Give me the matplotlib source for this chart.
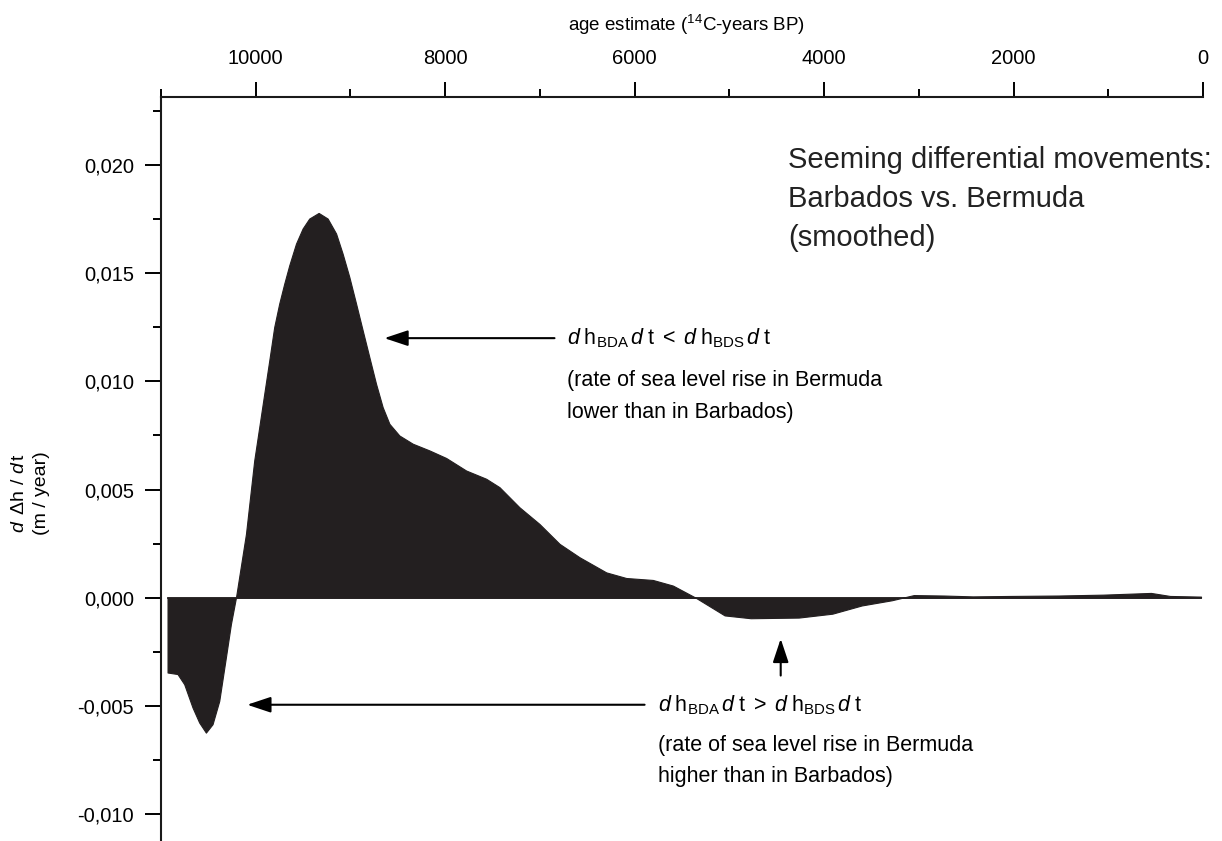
import matplotlib
matplotlib.use("Agg")
import matplotlib.pyplot as plt
from matplotlib.ticker import MultipleLocator, FuncFormatter

plt.rcParams['font.family'] = ['Liberation Sans', 'DejaVu Sans']
plt.rcParams['mathtext.fontset'] = 'custom'
plt.rcParams['mathtext.rm'] = 'Liberation Sans'
plt.rcParams['mathtext.it'] = 'Liberation Sans:italic'
plt.rcParams['mathtext.bf'] = 'Liberation Sans:bold'

# age (14C-years BP) and smoothed differential rate (m / year)
age = [10931, 10826, 10755, 10667, 10597, 10526, 10456, 10385, 10315, 10262,
       10209, 10103, 10016, 9963, 9910, 9857, 9805, 9752, 9699, 9646,
       9575, 9505, 9435, 9336, 9241, 9152, 9083, 9012, 8941, 8871,
       8801, 8730, 8660, 8589, 8484, 8343, 8167, 7990, 7779, 7568,
       7427, 7216, 7005, 6793, 6582, 6300, 6089, 5808, 5596, 5356,
       5050, 4775, 4268, 3913, 3603, 3286, 3053, 2740, 2430, 2039,
       1527, 1057, 549, 349, 21]
rate = [-0.00346, -0.00353, -0.00400, -0.00508, -0.00577, -0.00624, -0.00585, -0.00477, -0.00276, -0.00122,
        0.0, 0.00295, 0.00634, 0.00788, 0.00943, 0.01097, 0.01251, 0.01360, 0.01452, 0.01537,
        0.01637, 0.01707, 0.01753, 0.01779, 0.01753, 0.01684, 0.01591, 0.01483, 0.01360, 0.01236,
        0.01113, 0.00989, 0.00881, 0.00804, 0.00750, 0.00712, 0.00681, 0.00646, 0.00588, 0.00550,
        0.00511, 0.00418, 0.00341, 0.00249, 0.00187, 0.00117, 0.00091, 0.00082, 0.00056, 0.0,
        -0.00082, -0.00095, -0.00092, -0.00074, -0.00036, -0.00012, 0.00012, 0.00010, 0.00006, 0.00008,
        0.00010, 0.00014, 0.00022, 0.00008, 0.00005]

x_major = [10000, 8000, 6000, 4000, 2000, 0]
y_major = [-0.010, -0.005, 0.000, 0.005, 0.010, 0.015, 0.020]

W, H = 1222, 841
fig = plt.figure(figsize=(W / 100, H / 100), dpi=100)
ax = fig.add_axes([161 / W, 0.0, (1203 - 161) / W, (H - 97) / H])

fill_col = '#231f20'
ax.fill_between(age, rate, 0, color=fill_col, linewidth=0.8, edgecolor=fill_col)
ax.plot([age[0], age[-1]], [0, 0], color=fill_col, lw=1.3)

ax.set_xlim(11000, 0)
ax.set_ylim(-0.01125, 0.02315)

for s in ['right', 'bottom']:
    ax.spines[s].set_visible(False)
for s in ['left', 'top']:
    ax.spines[s].set_linewidth(1.5)
    ax.spines[s].set_color('#1a1a1a')

ax.xaxis.tick_top()
ax.set_xticks(x_major)
ax.xaxis.set_minor_locator(MultipleLocator(1000))
ax.set_yticks(y_major)
ax.yaxis.set_minor_locator(MultipleLocator(0.0025))
ax.xaxis.set_major_formatter(FuncFormatter(lambda v, p: f"{int(round(v))}"))
ax.yaxis.set_major_formatter(FuncFormatter(lambda v, p: f"{v:.3f}".replace('.', ',').replace('\u2212', '-')))

ax.tick_params(axis='x', which='major', direction='out', length=11, width=1.4, labelsize=14.5, pad=10, top=True, bottom=False)
ax.tick_params(axis='x', which='minor', direction='out', length=6, width=1.4, top=True, bottom=False)
ax.tick_params(axis='y', which='major', direction='out', length=11.5, width=1.4, labelsize=14.5, pad=8)
ax.tick_params(axis='y', which='minor', direction='out', length=6, width=1.4)

# axis labels
fig.text(687 / W, 1 - 25 / H, r"age estimate ($^{14}$C-years BP)", ha='center', va='center', fontsize=13.5)
fig.text(20 / W, 1 - 493 / H, r"$\mathit{d}\,$ Δh / $\mathit{d}\,$t", rotation=90, ha='center', va='center', fontsize=14)
fig.text(42 / W, 1 - 493 / H, "(m / year)", rotation=90, ha='center', va='center', fontsize=14)

# title block
fig.text(788 / W, 1 - 146 / H, "Seeming differential movements:\nBarbados vs. Bermuda\n(smoothed)",
         ha='left', va='top', fontsize=21, linespacing=1.5, color='#222222')

# annotations
arrow_kw = dict(arrowstyle='-|>,head_length=0.9,head_width=0.3', color='black', lw=1.5, mutation_scale=16, shrinkA=0, shrinkB=0)
ax.annotate('', xy=(8642, 0.0120), xytext=(6846, 0.0120), arrowprops=arrow_kw)
ax.annotate('', xy=(10090, -0.00495), xytext=(5895, -0.00495), arrowprops=arrow_kw)
ax.annotate('', xy=(4458, -0.0019), xytext=(4458, -0.0036), arrowprops=arrow_kw)

eq1 = r"$\mathit{d}\;\mathrm{h}_{\mathrm{BDA}}\,\mathit{d}\;\mathrm{t}\;<\;\mathit{d}\;\mathrm{h}_{\mathrm{BDS}}\,\mathit{d}\;\mathrm{t}$"
eq2 = r"$\mathit{d}\;\mathrm{h}_{\mathrm{BDA}}\,\mathit{d}\;\mathrm{t}\;>\;\mathit{d}\;\mathrm{h}_{\mathrm{BDS}}\,\mathit{d}\;\mathrm{t}$"
fs = 15.5
ax.text(6709, 0.0120, eq1, ha='left', va='center', fontsize=fs)
ax.text(6709, 0.01005, "(rate of sea level rise in Bermuda", ha='left', va='center', fontsize=fs)
ax.text(6709, 0.00855, "lower than in Barbados)", ha='left', va='center', fontsize=fs)
ax.text(5758, -0.00495, eq2, ha='left', va='center', fontsize=fs)
ax.text(5758, -0.00685, "(rate of sea level rise in Bermuda", ha='left', va='center', fontsize=fs)
ax.text(5758, -0.00825, "higher than in Barbados)", ha='left', va='center', fontsize=fs)

fig.savefig("out.png", dpi=100)
